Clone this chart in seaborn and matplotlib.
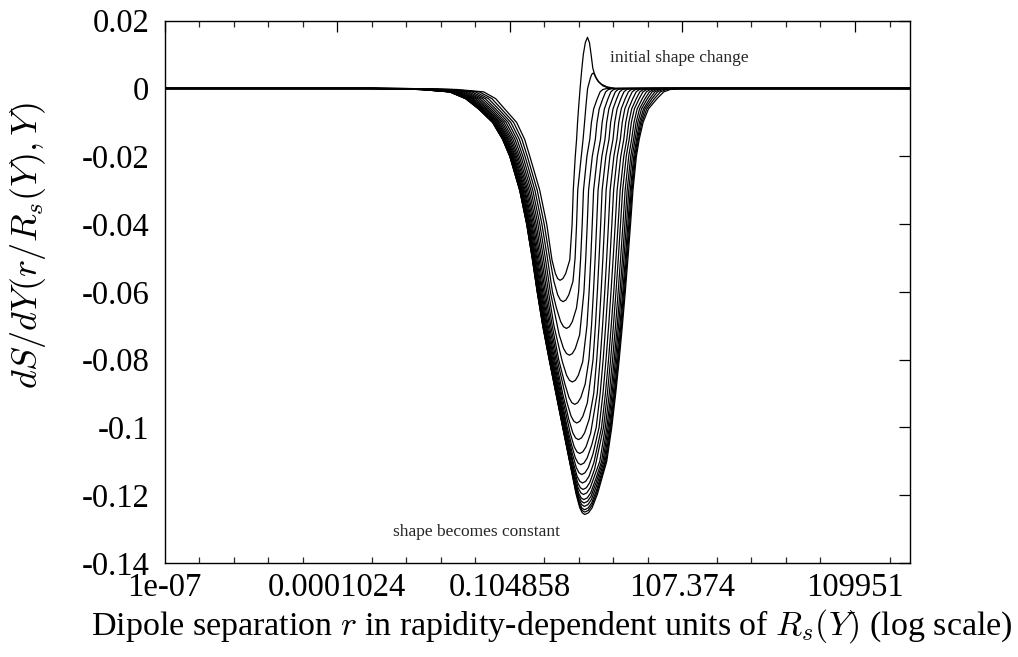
import numpy as np
import pandas as pd
import matplotlib
matplotlib.use("Agg")
import matplotlib.pyplot as plt
from matplotlib.ticker import FixedLocator, FixedFormatter, FuncFormatter
import seaborn as sns

# dS/dY versus log10(r / R_s(Y)), one pair of lists per rapidity step,
# from the initial condition (step 0) to the asymptotic shape (step 19).
logr_0 = [-7, -2.77, -1.90, -1.435, -1.225, -1.07, -0.86, -0.72, -0.63, -0.457, -0.335,
          -0.243, -0.184, -0.1435, -0.103, -0.0535, -0.004, 0.067,
          0.108, 0.128, 0.163, 0.186, 0.203, 0.224, 0.247, 0.273, 0.303, 0.338, 0.376, 0.411,
          0.439, 0.469, 0.512, 0.556, 0.626, 0.713, 0.853, 6]
dsdy_0 = [0, 0, -0.0003, -0.001, -0.003, -0.006, -0.01, -0.015, -0.02, -0.03, -0.04,
          -0.0506, -0.0546, -0.0561, -0.0566, -0.0561, -0.0546, -0.0506,
          -0.04, -0.03, -0.02, -0.015, -0.01, -0.005, 0, 0.005, 0.01, 0.0135, 0.0151, 0.0135,
          0.01, 0.006, 0.0035, 0.0022, 0.0012, 0.0005, 0, 0]

logr_1 = [-7, -2.85, -1.98, -1.51, -1.291, -1.127, -0.913, -0.768, -0.674, -0.501, -0.379, -0.283,
          -0.21, -0.143, -0.0965, -0.05, 0.0, 0.05, 0.123,
          0.160, 0.186, 0.206, 0.268, 0.299, 0.325, 0.350, 0.378, 0.402, 0.425, 0.448, 0.474,
          0.500, 0.533, 0.579, 0.643, 0.731, 0.870, 6]
dsdy_1 = [0, 0, -0.0003, -0.001, -0.003, -0.006, -0.01, -0.015, -0.02, -0.03, -0.04, -0.05,
          -0.0569, -0.0609, -0.0624, -0.0629, -0.0624, -0.0609, -0.0569,
          -0.05, -0.04, -0.03, -0.02, -0.015, -0.01, -0.005, 0, 0.0015, 0.003, 0.0041, 0.00455,
          0.0041, 0.003, 0.0018, 0.0008, 0.0002, 0, 0]

logr_2 = [-7, -2.92, -2.05, -1.578, -1.351, -1.179, -0.961, -0.812, -0.714, -0.541, -0.419, -0.323, -0.235,
          -0.165, -0.092, -0.0415, 0.009, 0.06, 0.111, 0.184,
          0.221, 0.257, 0.284, 0.306, 0.366, 0.416, 0.445, 0.484, 0.547, 0.596, 0.644, 0.72, 6]
dsdy_2 = [0, 0, -0.0003, -0.001, -0.003, -0.006, -0.01, -0.015, -0.02, -0.03, -0.04, -0.05, -0.06,
          -0.0648, -0.0688, -0.0703, -0.0708, -0.0703, -0.0688, -0.0648,
          -0.06, -0.05, -0.04, -0.03, -0.02, -0.015, -0.01, -0.006, -0.003, -0.001, -0.0003, 0, 0]

logr_3 = [-7, -2.99, -2.12, -1.641, -1.406, -1.227, -1.005, -0.853, -0.751, -0.578, -0.456, -0.360, -0.272,
          -0.117, -0.042, 0.0095, 0.061, 0.1125, 0.164, 0.239,
          0.314, 0.346, 0.372, 0.395, 0.46, 0.513, 0.542, 0.581, 0.644, 0.693, 0.741, 0.817, 6]
dsdy_3 = [0, 0, -0.0003, -0.001, -0.003, -0.006, -0.01, -0.015, -0.02, -0.03, -0.04, -0.05, -0.06,
          -0.0727, -0.0767, -0.0782, -0.0787, -0.0782, -0.0767, -0.0727,
          -0.06, -0.05, -0.04, -0.03, -0.02, -0.015, -0.01, -0.006, -0.003, -0.001, -0.0003, 0, 0]

logr_4 = [-7, -3.047, -2.177, -1.697, -1.456, -1.27, -1.045, -0.889, -0.784, -0.611, -0.489, -0.393, -0.305, -0.209,
          -0.063, 0.011, 0.0615, 0.112, 0.1645, 0.217, 0.293,
          0.367, 0.404, 0.434, 0.459, 0.483, 0.549, 0.603, 0.632, 0.671, 0.734, 0.783, 0.831, 0.907, 6]
dsdy_4 = [0, 0, -0.0003, -0.001, -0.003, -0.006, -0.01, -0.015, -0.02, -0.03, -0.04, -0.05, -0.06, -0.07,
          -0.0806, -0.0846, -0.0861, -0.0866, -0.0861, -0.0846, -0.0806,
          -0.07, -0.06, -0.05, -0.04, -0.03, -0.02, -0.015, -0.01, -0.006, -0.003, -0.001, -0.0003, 0, 0]

logr_5 = [-7, -3.101, -2.231, -1.748, -1.501, -1.309, -1.081, -0.922, -0.814, -0.641, -0.519, -0.423, -0.335, -0.239, -0.126,
          -0.018, 0.054, 0.1035, 0.153, 0.206, 0.259, 0.336,
          0.401, 0.446, 0.480, 0.510, 0.536, 0.561, 0.627, 0.681, 0.71, 0.749, 0.812, 0.861, 0.909, 0.985, 6]
dsdy_5 = [0, 0, -0.0003, -0.001, -0.003, -0.006, -0.01, -0.015, -0.02, -0.03, -0.04, -0.05, -0.06, -0.07, -0.08,
          -0.0872, -0.0912, -0.0927, -0.0932, -0.0927, -0.0912, -0.0872,
          -0.08, -0.07, -0.06, -0.05, -0.04, -0.03, -0.02, -0.015, -0.01, -0.006, -0.003, -0.001, -0.0003, 0, 0]

logr_6 = [-7, -3.148, -2.278, -1.792, -1.54, -1.343, -1.112, -0.951, -0.84, -0.667, -0.545, -0.449, -0.361, -0.265, -0.152,
          0.019, 0.09, 0.139, 0.188, 0.242, 0.296, 0.374,
          0.473, 0.514, 0.548, 0.578, 0.606, 0.631, 0.697, 0.751, 0.78, 0.821, 0.886, 0.936, 0.985, 1.063, 6]
dsdy_6 = [0, 0, -0.0003, -0.001, -0.003, -0.006, -0.01, -0.015, -0.02, -0.03, -0.04, -0.05, -0.06, -0.07, -0.08,
          -0.0927, -0.0967, -0.0982, -0.0987, -0.0982, -0.0967, -0.0927,
          -0.08, -0.07, -0.06, -0.05, -0.04, -0.03, -0.02, -0.015, -0.01, -0.006, -0.003, -0.001, -0.0003, 0, 0]

logr_7 = [-7, -3.189, -2.319, -1.831, -1.574, -1.373, -1.14, -0.976, -0.863, -0.69, -0.568, -0.472, -0.384, -0.288, -0.175, -0.057,
          0.05, 0.12, 0.1685, 0.217, 0.2715, 0.326, 0.405,
          0.485, 0.537, 0.578, 0.613, 0.645, 0.674, 0.701, 0.767, 0.821, 0.851, 0.893, 0.959, 1.011, 1.061, 1.141, 6]
dsdy_7 = [0, 0, -0.0003, -0.001, -0.003, -0.006, -0.01, -0.015, -0.02, -0.03, -0.04, -0.05, -0.06, -0.07, -0.08, -0.09,
          -0.0976, -0.1016, -0.1031, -0.1036, -0.1031, -0.1016, -0.0976,
          -0.09, -0.08, -0.07, -0.06, -0.05, -0.04, -0.03, -0.02, -0.015, -0.01, -0.006, -0.003, -0.001, -0.0003, 0, 0]

logr_8 = [-7, -3.227, -2.357, -1.867, -1.606, -1.40, -1.165, -0.999, -0.884, -0.711, -0.589, -0.493, -0.405, -0.309, -0.196, -0.078,
          0.075, 0.144, 0.192, 0.24, 0.2955, 0.351, 0.431,
          0.546, 0.597, 0.639, 0.677, 0.711, 0.742, 0.771, 0.836, 0.889, 0.921, 0.965, 1.034, 1.089, 1.141, 1.225, 6]
dsdy_8 = [0, 0, -0.0003, -0.001, -0.003, -0.006, -0.01, -0.015, -0.02, -0.03, -0.04, -0.05, -0.06, -0.07, -0.08, -0.09,
          -0.1017, -0.1057, -0.1072, -0.1077, -0.1072, -0.1057, -0.1017,
          -0.09, -0.08, -0.07, -0.06, -0.05, -0.04, -0.03, -0.02, -0.015, -0.01, -0.006, -0.003, -0.001, -0.0003, 0, 0]

logr_9 = [-7, -3.258, -2.388, -1.896, -1.631, -1.422, -1.185, -1.018, -0.901, -0.728, -0.606, -0.51, -0.422, -0.326, -0.213, -0.095, 0.023,
          0.096, 0.164, 0.2115, 0.259, 0.315, 0.371, 0.453,
          0.528, 0.597, 0.649, 0.693, 0.732, 0.768, 0.801, 0.832, 0.896, 0.949, 0.982, 1.027, 1.099, 1.156, 1.211, 1.298, 6]
dsdy_9 = [0, 0, -0.0003, -0.001, -0.003, -0.006, -0.01, -0.015, -0.02, -0.03, -0.04, -0.05, -0.06, -0.07, -0.08, -0.09, -0.10,
          -0.105, -0.109, -0.1105, -0.111, -0.1105, -0.109, -0.105,
          -0.10, -0.09, -0.08, -0.07, -0.06, -0.05, -0.04, -0.03, -0.02, -0.015, -0.01, -0.006, -0.003, -0.001, -0.0003, 0, 0]

logr_10 = [-7, -3.287, -2.417, -1.923, -1.655, -1.443, -1.204, -1.036, -0.917, -0.744, -0.622, -0.526, -0.438, -0.342, -0.229, -0.111, 0.007,
           0.114, 0.182, 0.2285, 0.275, 0.332, 0.389, 0.471,
           0.578, 0.646, 0.699, 0.745, 0.786, 0.824, 0.860, 0.893, 0.957, 1.009, 1.043, 1.091, 1.166, 1.225, 1.281, 1.372, 6]
dsdy_10 = [0, 0, -0.0003, -0.001, -0.003, -0.006, -0.01, -0.015, -0.02, -0.03, -0.04, -0.05, -0.06, -0.07, -0.08, -0.09, -0.10,
           -0.1079, -0.1119, -0.1134, -0.1139, -0.1134, -0.1119, -0.1079,
           -0.10, -0.09, -0.08, -0.07, -0.06, -0.05, -0.04, -0.03, -0.02, -0.015, -0.01, -0.006, -0.003, -0.001, -0.0003, 0, 0]

logr_11 = [-7, -3.312, -2.442, -1.947, -1.676, -1.461, -1.221, -1.051, -0.931, -0.758, -0.636, -0.54, -0.452, -0.356, -0.243, -0.125, -0.007,
           0.128, 0.195, 0.2415, 0.288, 0.3455, 0.403, 0.487,
           0.621, 0.689, 0.743, 0.790, 0.834, 0.873, 0.911, 0.946, 1.009, 1.061, 1.097, 1.147, 1.227, 1.289, 1.349, 1.445, 6]
dsdy_11 = [0, 0, -0.0003, -0.001, -0.003, -0.006, -0.01, -0.015, -0.02, -0.03, -0.04, -0.05, -0.06, -0.07, -0.08, -0.09, -0.10,
           -0.1104, -0.1144, -0.1159, -0.1164, -0.1159, -0.1144, -0.1104,
           -0.10, -0.09, -0.08, -0.07, -0.06, -0.05, -0.04, -0.03, -0.02, -0.015, -0.01, -0.006, -0.003, -0.001, -0.0003, 0, 0]

logr_12 = [-7, -3.332, -2.462, -1.965, -1.693, -1.476, -1.234, -1.063, -0.942, -0.769, -0.647, -0.551, -0.463, -0.367, -0.254, -0.136, -0.018,
           0.139, 0.206, 0.252, 0.298, 0.3565, 0.415, 0.5,
           0.656, 0.723, 0.779, 0.828, 0.873, 0.914, 0.952, 0.989, 1.052, 1.103, 1.141, 1.194, 1.278, 1.343, 1.407, 1.508, 6]
dsdy_12 = [0, 0, -0.0003, -0.001, -0.003, -0.006, -0.01, -0.015, -0.02, -0.03, -0.04, -0.05, -0.06, -0.07, -0.08, -0.09, -0.10,
           -0.1123, -0.1163, -0.1178, -0.1183, -0.1178, -0.1163, -0.1123,
           -0.10, -0.09, -0.08, -0.07, -0.06, -0.05, -0.04, -0.03, -0.02, -0.015, -0.01, -0.006, -0.003, -0.001, -0.0003, 0, 0]

logr_13 = [-7, -3.35, -2.48, -1.982, -1.708, -1.489, -1.246, -1.074, -0.952, -0.779, -0.657, -0.561, -0.473, -0.377, -0.264, -0.146, -0.028, 0.091,
           0.146, 0.213, 0.2595, 0.306, 0.365, 0.424, 0.51,
           0.591, 0.687, 0.756, 0.813, 0.865, 0.911, 0.954, 0.995, 1.033, 1.095, 1.146, 1.187, 1.243, 1.332, 1.403, 1.47, 1.578, 6]
dsdy_13 = [0, 0, -0.0003, -0.001, -0.003, -0.006, -0.01, -0.015, -0.02, -0.03, -0.04, -0.05, -0.06, -0.07, -0.08, -0.09, -0.10, -0.11,
           -0.1138, -0.1178, -0.1193, -0.1198, -0.1193, -0.1178, -0.1138,
           -0.11, -0.10, -0.09, -0.08, -0.07, -0.06, -0.05, -0.04, -0.03, -0.02, -0.015, -0.01, -0.006, -0.003, -0.001, -0.0003, 0, 0]

logr_14 = [-7, -3.366, -2.496, -1.998, -1.721, -1.50, -1.257, -1.084, -0.961, -0.788, -0.666, -0.57, -0.482, -0.386, -0.273, -0.155, -0.037, 0.082,
           0.154, 0.22, 0.266, 0.312, 0.372, 0.432, 0.519,
           0.622, 0.714, 0.784, 0.842, 0.895, 0.942, 0.987, 1.028, 1.068, 1.13, 1.18, 1.224, 1.284, 1.38, 1.456, 1.528, 1.644, 6]
dsdy_14 = [0, 0, -0.0003, -0.001, -0.003, -0.006, -0.01, -0.015, -0.02, -0.03, -0.04, -0.05, -0.06, -0.07, -0.08, -0.09, -0.10, -0.11,
           -0.1153, -0.1193, -0.1208, -0.1213, -0.1208, -0.1193, -0.1153,
           -0.11, -0.10, -0.09, -0.08, -0.07, -0.06, -0.05, -0.04, -0.03, -0.02, -0.015, -0.01, -0.006, -0.003, -0.001, -0.0003, 0, 0]

logr_15 = [-7, -3.378, -2.508, -2.01, -1.732, -1.509, -1.266, -1.092, -0.968, -0.795, -0.673, -0.577, -0.489, -0.393, -0.28, -0.162, -0.044, 0.075,
           0.159, 0.225, 0.271, 0.317, 0.3775, 0.438, 0.526,
           0.645, 0.736, 0.805, 0.865, 0.918, 0.967, 1.012, 1.056, 1.096, 1.157, 1.207, 1.254, 1.319, 1.421, 1.502, 1.579, 1.703, 6]
dsdy_15 = [0, 0, -0.0003, -0.001, -0.003, -0.006, -0.01, -0.015, -0.02, -0.03, -0.04, -0.05, -0.06, -0.07, -0.08, -0.09, -0.10, -0.11,
           -0.1163, -0.1203, -0.1218, -0.1223, -0.1218, -0.1203, -0.1163,
           -0.11, -0.10, -0.09, -0.08, -0.07, -0.06, -0.05, -0.04, -0.03, -0.02, -0.015, -0.01, -0.006, -0.003, -0.001, -0.0003, 0, 0]

logr_16 = [-7, -3.387, -2.517, -2.018, -1.739, -1.516, -1.272, -1.097, -0.973, -0.80, -0.678, -0.582, -0.494, -0.398, -0.285, -0.167, -0.049, 0.07,
           0.164, 0.23, 0.2755, 0.321, 0.3825, 0.444, 0.533,
           0.666, 0.756, 0.826, 0.886, 0.941, 0.991, 1.037, 1.08, 1.122, 1.183, 1.232, 1.282, 1.353, 1.463, 1.55, 1.634, 1.768, 6]
dsdy_16 = [0, 0, -0.0003, -0.001, -0.003, -0.006, -0.01, -0.015, -0.02, -0.03, -0.04, -0.05, -0.06, -0.07, -0.08, -0.09, -0.10, -0.11,
           -0.1173, -0.1213, -0.1228, -0.1233, -0.1228, -0.1213, -0.1173,
           -0.11, -0.10, -0.09, -0.08, -0.07, -0.06, -0.05, -0.04, -0.03, -0.02, -0.015, -0.01, -0.006, -0.003, -0.001, -0.0003, 0, 0]

logr_17 = [-7, -3.394, -2.524, -2.024, -1.745, -1.52, -1.276, -1.101, -0.977, -0.804, -0.682, -0.586, -0.498, -0.402, -0.289, -0.171, -0.053, 0.067,
           0.17, 0.235, 0.2795, 0.324, 0.3865, 0.449, 0.539,
           0.684, 0.772, 0.843, 0.903, 0.957, 1.007, 1.053, 1.098, 1.139, 1.2, 1.249, 1.304, 1.38, 1.501, 1.596, 1.687, 1.833, 6]
dsdy_17 = [0, 0, -0.0003, -0.001, -0.003, -0.006, -0.01, -0.015, -0.02, -0.03, -0.04, -0.05, -0.06, -0.07, -0.08, -0.09, -0.10, -0.11,
           -0.1183, -0.1223, -0.1238, -0.1243, -0.1238, -0.1223, -0.1183,
           -0.11, -0.10, -0.09, -0.08, -0.07, -0.06, -0.05, -0.04, -0.03, -0.02, -0.015, -0.01, -0.006, -0.003, -0.001, -0.0003, 0, 0]

logr_18 = [-7, -3.397, -2.527, -2.027, -1.747, -1.523, -1.278, -1.103, -0.978, -0.805, -0.683, -0.587, -0.499, -0.403, -0.29, -0.172, -0.054, 0.065,
           0.174, 0.238, 0.2825, 0.327, 0.39, 0.453, 0.544,
           0.699, 0.785, 0.856, 0.916, 0.971, 1.021, 1.068, 1.113, 1.155, 1.215, 1.264, 1.325, 1.41, 1.543, 1.649, 1.75, 1.912, 6]
dsdy_18 = [0, 0, -0.0003, -0.001, -0.003, -0.006, -0.01, -0.015, -0.02, -0.03, -0.04, -0.05, -0.06, -0.07, -0.08, -0.09, -0.10, -0.11,
           -0.119, -0.123, -0.1245, -0.125, -0.1245, -0.123, -0.119,
           -0.11, -0.10, -0.09, -0.08, -0.07, -0.06, -0.05, -0.04, -0.03, -0.02, -0.015, -0.01, -0.006, -0.003, -0.001, -0.0003, 0, 0]

logr_19 = [-7, -3.4, -2.53, -2.03, -1.75, -1.525, -1.28, -1.105, -0.98, -0.807, -0.685, -0.589, -0.501, -0.405, -0.292, -0.174, -0.056, 0.063,
           0.178, 0.241, 0.285, 0.329, 0.393, 0.457, 0.549,
           0.712, 0.799, 0.868, 0.929, 0.984, 1.035, 1.082, 1.127, 1.169, 1.229, 1.278, 1.346, 1.44, 1.589, 1.706, 1.818, 1.998, 6]
dsdy_19 = [0, 0, -0.0003, -0.001, -0.003, -0.006, -0.01, -0.015, -0.02, -0.03, -0.04, -0.05, -0.06, -0.07, -0.08, -0.09, -0.10, -0.11,
           -0.1197, -0.1237, -0.1252, -0.1257, -0.1252, -0.1237, -0.1197,
           -0.11, -0.10, -0.09, -0.08, -0.07, -0.06, -0.05, -0.04, -0.03, -0.02, -0.015, -0.01, -0.006, -0.003, -0.001, -0.0003, 0, 0]

# Axis ticks: major marks every factor 1024 starting at 1e-7
xtick_values = [1e-07, 0.0001024, 0.104858, 107.374, 109951]
xtick_labels = ["1e-07", "0.0001024", "0.104858", "107.374", "109951"]
ytick_values = [-0.14, -0.12, -0.10, -0.08, -0.06, -0.04, -0.02, 0.0, 0.02]

steps = [(logr_0, dsdy_0), (logr_1, dsdy_1), (logr_2, dsdy_2), (logr_3, dsdy_3),
         (logr_4, dsdy_4), (logr_5, dsdy_5), (logr_6, dsdy_6), (logr_7, dsdy_7),
         (logr_8, dsdy_8), (logr_9, dsdy_9), (logr_10, dsdy_10), (logr_11, dsdy_11),
         (logr_12, dsdy_12), (logr_13, dsdy_13), (logr_14, dsdy_14), (logr_15, dsdy_15),
         (logr_16, dsdy_16), (logr_17, dsdy_17), (logr_18, dsdy_18), (logr_19, dsdy_19)]

frames = []
for k, (lr, v) in enumerate(steps):
    assert len(lr) == len(v), k
    frames.append(pd.DataFrame({"r": np.power(10.0, lr), "dsdy": v, "step": k}))
df = pd.concat(frames, ignore_index=True)

sns.set_theme(style="white")
plt.rcParams.update({
    "font.family": ["Liberation Serif", "DejaVu Serif"],
    "mathtext.fontset": "cm",
    "axes.unicode_minus": False,
    "axes.edgecolor": "black",
    "axes.linewidth": 1.0,
})

fig = plt.figure(figsize=(10.18, 6.57), dpi=100)
ax = fig.add_axes([0.1616, 0.1431, 0.7323, 0.8254])
ax.set_xscale("log")

sns.lineplot(data=df, x="r", y="dsdy", units="step", estimator=None, sort=False,
             color="black", linewidth=0.9, ax=ax, legend=False)

ax.set_xlim(1e-7, 1e6)
ax.set_ylim(-0.14, 0.02)

ax.xaxis.set_major_locator(FixedLocator(xtick_values))
ax.xaxis.set_major_formatter(FixedFormatter(xtick_labels))
minor_x = [1e-7 * 4.0 ** j for j in range(22) if j % 5]
ax.xaxis.set_minor_locator(FixedLocator(minor_x))
ax.yaxis.set_major_locator(FixedLocator(ytick_values))
ax.yaxis.set_major_formatter(FuncFormatter(lambda v, p: "%g" % round(v, 4)))

ax.tick_params(axis="both", which="major", direction="in", length=8, width=0.9,
               top=True, right=True, labelsize=23.5, colors="black")
ax.tick_params(axis="x", which="major", pad=7)
ax.tick_params(axis="y", which="major", pad=11)
ax.tick_params(axis="x", which="minor", direction="in", length=4, width=0.9, top=True, bottom=True)

ax.set_xlabel("Dipole separation $r$ in rapidity-dependent units of $R_s(Y)$ (log scale)",
              fontsize=24.5, color="black")
ax.set_ylabel("$dS/dY(r/R_s(Y),Y)$", fontsize=26, color="black")
ax.yaxis.set_label_coords(-0.156, 0.585)
ax.xaxis.set_label_coords(0.52, -0.082)

ax.text(5.8, 0.0091, "initial shape change", fontsize=12.5, va="center", ha="left")
ax.text(9.8e-4, -0.131, "shape becomes constant", fontsize=12.5, va="center", ha="left")

for s in ax.spines.values():
    s.set_visible(True)
    s.set_color("black")

fig.savefig("out.png", dpi=100)
